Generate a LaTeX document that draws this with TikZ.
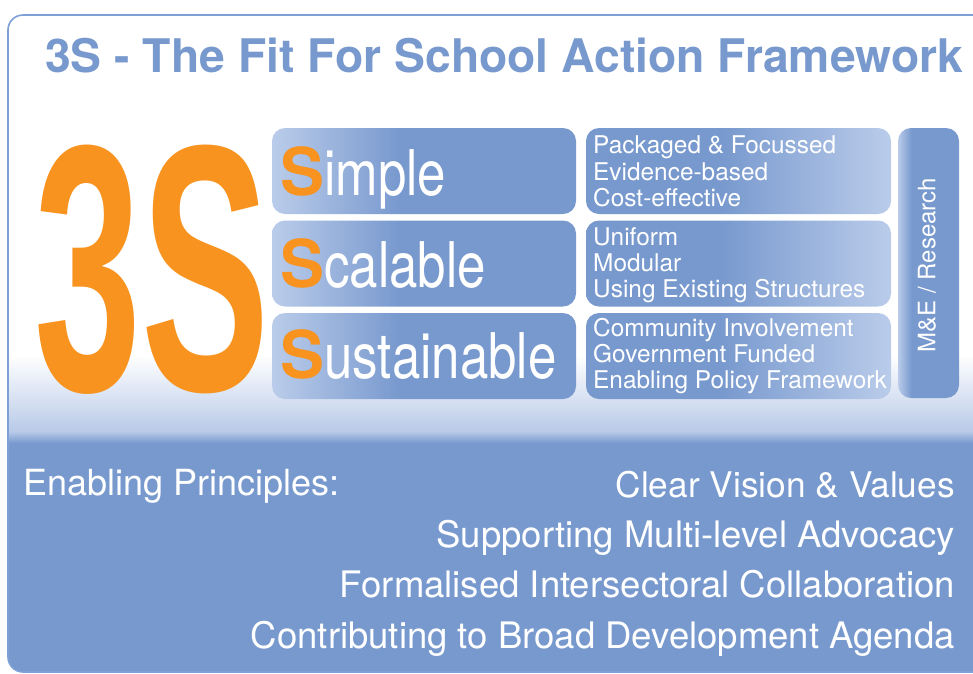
\documentclass[tikz,border=0pt]{standalone}
\usepackage{fontspec}
\usepackage{graphicx}
\setmainfont{TeX Gyre Heros}
\newfontfamily\bigfont{Liberation Sans}
\definecolor{fsblue}{HTML}{7899CE}
\definecolor{fslight}{HTML}{BACCEA}
\definecolor{fsfade}{HTML}{B8CAE8}
\definecolor{fsorange}{HTML}{F7931E}
\definecolor{fsframe}{HTML}{7FA0D6}
% panel shadings: the path box is mapped onto 25bp..75bp
\pgfdeclarehorizontalshading{fadeleft}{100bp}{color(0bp)=(fslight); color(25bp)=(fslight); color(46bp)=(fsblue); color(100bp)=(fsblue)}
\pgfdeclarehorizontalshading{faderight}{100bp}{color(0bp)=(fsblue); color(47bp)=(fsblue); color(75bp)=(fslight); color(100bp)=(fslight)}
\pgfdeclarehorizontalshading{fadebar}{100bp}{color(0bp)=(fslight); color(25bp)=(fslight); color(36bp)=(fsblue); color(100bp)=(fsblue)}
\tikzset{
  panel/.style={shade, draw=none, rounded corners=13pt, inner sep=0pt},
  pillar/.style={panel, shading=fadeleft, minimum width=304pt, minimum height=86pt},
  detail/.style={panel, shading=faderight, minimum width=305pt, minimum height=86pt},
  bar/.style={panel, shading=fadebar, minimum width=61pt, minimum height=270pt},
  pillartext/.style={anchor=base west, inner sep=0pt, text=white},
  itemtext/.style={anchor=base west, inner sep=0pt, text=white, font=\fontsize{24.4}{26}\selectfont},
  principle/.style={anchor=base east, inner sep=0pt, text=white, font=\fontsize{36.5}{40}\selectfont},
}
\newcommand\initial[1]{{\color{fsorange}\bfseries\fontsize{66}{70}\selectfont #1}}
\newcommand\rest[1]{\scalebox{0.81}[1]{\fontsize{63}{70}\selectfont #1}}
\begin{document}
\begin{tikzpicture}[x=1pt,y=-1pt]
\useasboundingbox (0,0) rectangle (973,673);

% frame background: white above, fading into blue below
\begin{scope}
  \clip[rounded corners=15pt] (8,15) rectangle (1000,672);
  \fill[white] (0,0) rectangle (1000,356);
  \shade[top color=white, bottom color=fsfade] (0,355) rectangle (1000,432);
  \shade[top color=fsfade, bottom color=fsblue] (0,431.5) rectangle (1000,443);
  \fill[fsblue] (0,442.5) rectangle (1000,680);
\end{scope}
\draw[fsframe, line width=1.6pt, rounded corners=15pt] (8,15) rectangle (1000,672);

% title
\node[anchor=base west, inner sep=0pt, text=fsblue, font=\fontsize{46.3}{50}\selectfont\bfseries]
  (title) at (45,72) {3S - The Fit For School Action Framework};

% large 3S
\node[anchor=base west, inner sep=0pt, text=fsorange] (big) at (34,390)
  {\resizebox{235pt}{245pt}{\bigfont\bfseries 3S}};

% the three pillars
\node[pillar] (simple) at (424,171) {};
\node[pillar] (scalable) at (424,263.5) {};
\node[pillar] (sustainable) at (424,356) {};
\node[pillartext] (simplet) at (280,195) {\initial{S}\rest{imple}};
\node[pillartext] (scalablet) at (280,287) {\initial{S}\rest{calable}};
\node[pillartext] (sustainablet) at (280,378) {\initial{S}\rest{ustainable}};

% details of each pillar
\node[detail] (d1) at (738.5,171) {};
\node[detail] (d2) at (738.5,263.5) {};
\node[detail] (d3) at (738.5,356) {};
\node[itemtext] (d1a) at (593,153) {Packaged \& Focussed};
\node[itemtext] (d1b) at (593,180) {Evidence-based};
\node[itemtext] (d1c) at (593,206) {Cost-effective};
\node[itemtext] (d2a) at (593,245) {Uniform};
\node[itemtext] (d2b) at (593,271) {Modular};
\node[itemtext] (d2c) at (593,297) {Using Existing Structures};
\node[itemtext] (d3a) at (593,336) {Community Involvement};
\node[itemtext] (d3b) at (593,362) {Government Funded};
\node[itemtext] (d3c) at (593,388) {Enabling Policy Framework};

% monitoring bar
\node[bar] (me) at (928.5,263) {};
\node[rotate=90, inner sep=0pt, text=white, font=\fontsize{24}{26}\selectfont] (met) at (927,265) {M\&E / Research};

% enabling principles
\node[anchor=base west, inner sep=0pt, text=white, font=\fontsize{36}{40}\selectfont]
  (ep) at (23,495) {Enabling Principles:};
\node[principle, font=\fontsize{35.3}{40}\selectfont] (p1) at (955,497) {Clear Vision \& Values};
\node[principle] (p2) at (955,547) {Supporting Multi-level Advocacy};
\node[principle] (p3) at (955,597) {Formalised Intersectoral Collaboration};
\node[principle] (p4) at (955,648) {Contributing to Broad Development Agenda};
\end{tikzpicture}
\end{document}
